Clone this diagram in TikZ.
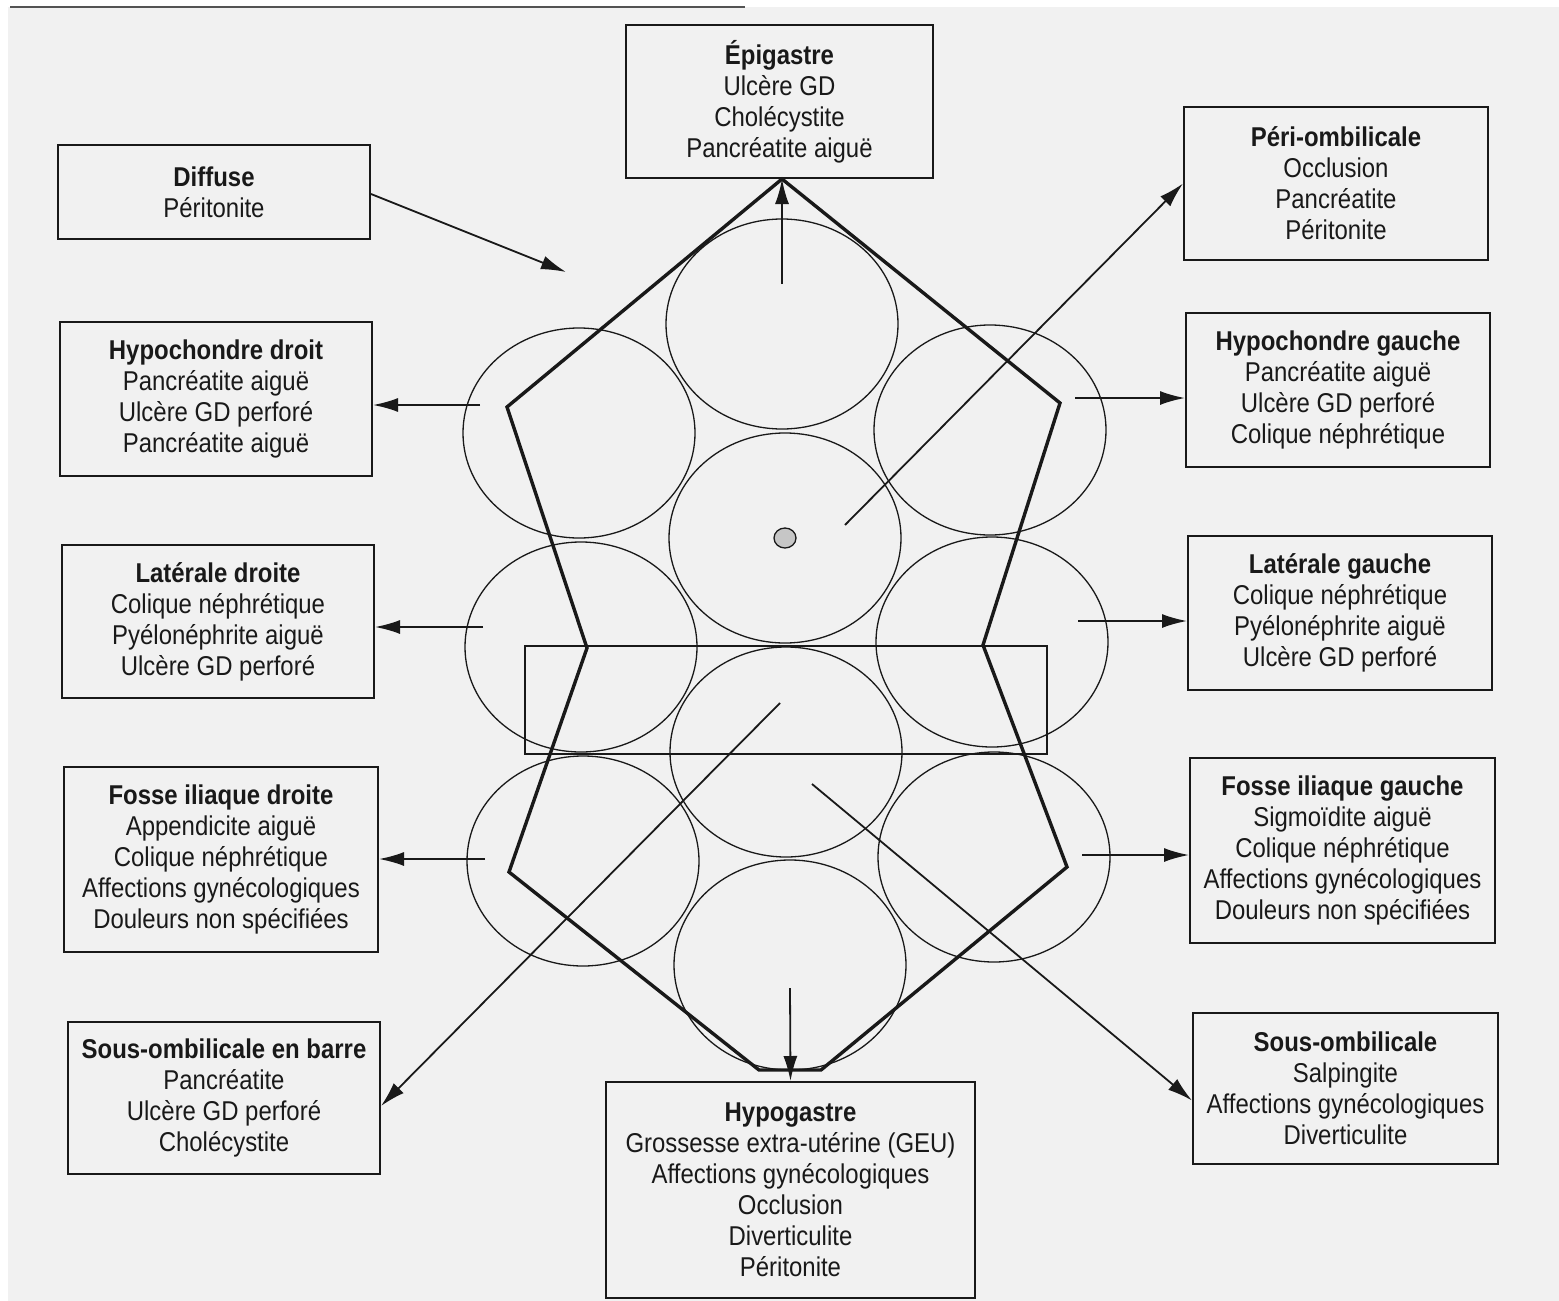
\documentclass[tikz,border=0pt]{standalone}
\usepackage{fontspec}
\setmainfont[FakeStretch=0.88]{Liberation Sans}
\usepackage{xcolor}
\usepackage{tikz}
\usetikzlibrary{arrows.meta, calc}
\definecolor{paper}{RGB}{241,241,241}
\definecolor{ink}{RGB}{25,25,25}
\tikzset{
    zone/.style={draw=ink, line width=1pt, align=center, inner sep=2pt,
                 font=\fontsize{13.6}{15.5}\selectfont, text=ink},
    arr/.style={-{Latex[length=12.5pt, width=7pt]}, line width=0.9pt, ink},
    ring/.style={draw=ink, line width=0.65pt},
    body/.style={draw=ink, line width=1.7pt, line join=miter}
}

\begin{document}
\begin{tikzpicture}[x=0.5pt, y=-0.5pt]
        \useasboundingbox (0,0) rectangle (1559,1301);
        \fill[paper] (8,7) rectangle (1559,1301);
        \draw[line width=0.9pt, ink!75] (10,7) -- (745,7);
        % boxes
        \node[zone, minimum width=153.5pt, minimum height=76.5pt] (epi) at (779.5,101.5)
            {\textbf{Épigastre}\\Ulcère GD\\Cholécystite\\Pancréatite aiguë};
        \node[zone, minimum width=156pt, minimum height=47pt] (diffuse) at (214,192)
            {\textbf{Diffuse}\\Péritonite};
        \node[zone, minimum width=152pt, minimum height=76.5pt] (peri) at (1336,183.5)
            {\textbf{Péri-ombilicale}\\Occlusion\\Pancréatite\\Péritonite};
        \node[zone, minimum width=156pt, minimum height=77pt] (hcd) at (216,399)
            {\textbf{Hypochondre droit}\\Pancréatite aiguë\\Ulcère GD perforé\\Pancréatite aiguë};
        \node[zone, minimum width=152pt, minimum height=77pt] (hcg) at (1338,390)
            {\textbf{Hypochondre gauche}\\Pancréatite aiguë\\Ulcère GD perforé\\Colique néphrétique};
        \node[zone, minimum width=156pt, minimum height=76.5pt] (latd) at (218,621.5)
            {\textbf{Latérale droite}\\Colique néphrétique\\Pyélonéphrite aiguë\\Ulcère GD perforé};
        \node[zone, minimum width=152pt, minimum height=77pt] (latg) at (1340,613)
            {\textbf{Latérale gauche}\\Colique néphrétique\\Pyélonéphrite aiguë\\Ulcère GD perforé};
        \node[zone, minimum width=157pt, minimum height=92.5pt] (fid) at (221,859.5)
            {\textbf{Fosse iliaque droite}\\Appendicite aiguë\\Colique néphrétique\\Affections gynécologiques\\Douleurs non spécifiées};
        \node[zone, minimum width=152.5pt, minimum height=92.5pt] (fig) at (1342.5,850.5)
            {\textbf{Fosse iliaque gauche}\\Sigmoïdite aiguë\\Colique néphrétique\\Affections gynécologiques\\Douleurs non spécifiées};
        \node[zone, minimum width=156pt, minimum height=76pt] (sob) at (224,1098)
            {\textbf{Sous-ombilicale en barre}\\Pancréatite\\Ulcère GD perforé\\Cholécystite};
        \node[zone, minimum width=184.5pt, minimum height=108pt] (hypo) at (790.5,1190)
            {\textbf{Hypogastre}\\Grossesse extra-utérine (GEU)\\Affections gynécologiques\\Occlusion\\Diverticulite\\Péritonite};
        \node[zone, minimum width=152.5pt, minimum height=75.5pt] (so) at (1345.5,1088.5)
            {\textbf{Sous-ombilicale}\\Salpingite\\Affections gynécologiques\\Diverticulite};
        % circles
        \foreach \c in {(782,324),(785,538),(786,752),(790,965),
                        (579,433),(581,647),(583,861),
                        (990,430),(992,642),(994,857)}
            \draw[ring] \c ellipse (116 and 105);
        \draw[ring] (525,646) rectangle (1047,754);
        \draw[ring, fill=gray!45] (785,538) ellipse (11 and 10);
        % body outline
        \coordinate (apex) at (782,179);
        \draw[body] (apex) -- (507,407) -- (587,648) -- (509,872) -- (759,1070)
            -- (821,1070) -- (1067,867) -- (983,645) -- (1060,403) -- cycle;
        % arrows
        \coordinate (diffTip) at (566,272);
        \coordinate (epiFrom) at (782,284);
        \coordinate (periFrom) at (845,525);
        \coordinate (hcdFrom) at (480,405);
        \coordinate (hcgFrom) at (1075,398);
        \coordinate (latdFrom) at (483,627);
        \coordinate (latgFrom) at (1078,621);
        \coordinate (fidFrom) at (485,859);
        \coordinate (figFrom) at (1082,855);
        \coordinate (sobFrom) at (780,703);
        \coordinate (soFrom) at (812,784);
        \coordinate (hypoFrom) at (790,988);
        \draw[arr] ([yshift=-1pt]diffuse.east) -- (diffTip);
        \draw[arr] (epiFrom) -- (apex);
        \draw[arr] (periFrom) -- (peri.west);
        \draw[arr] (hcdFrom) -- (hcdFrom -| hcd.east);
        \draw[arr] (hcgFrom) -- (hcgFrom -| hcg.west);
        \draw[arr] (latdFrom) -- (latdFrom -| latd.east);
        \draw[arr] (latgFrom) -- (latgFrom -| latg.west);
        \draw[arr] (fidFrom) -- (fidFrom -| fid.east);
        \draw[arr] (figFrom) -- (figFrom -| fig.west);
        \draw[arr] (sobFrom) -- ([yshift=-4pt]sob.east);
        \draw[arr] (soFrom) -- ([yshift=-6pt]so.west);
        \draw[arr] (hypoFrom) -- (hypo.north);
\end{tikzpicture}
\end{document}
